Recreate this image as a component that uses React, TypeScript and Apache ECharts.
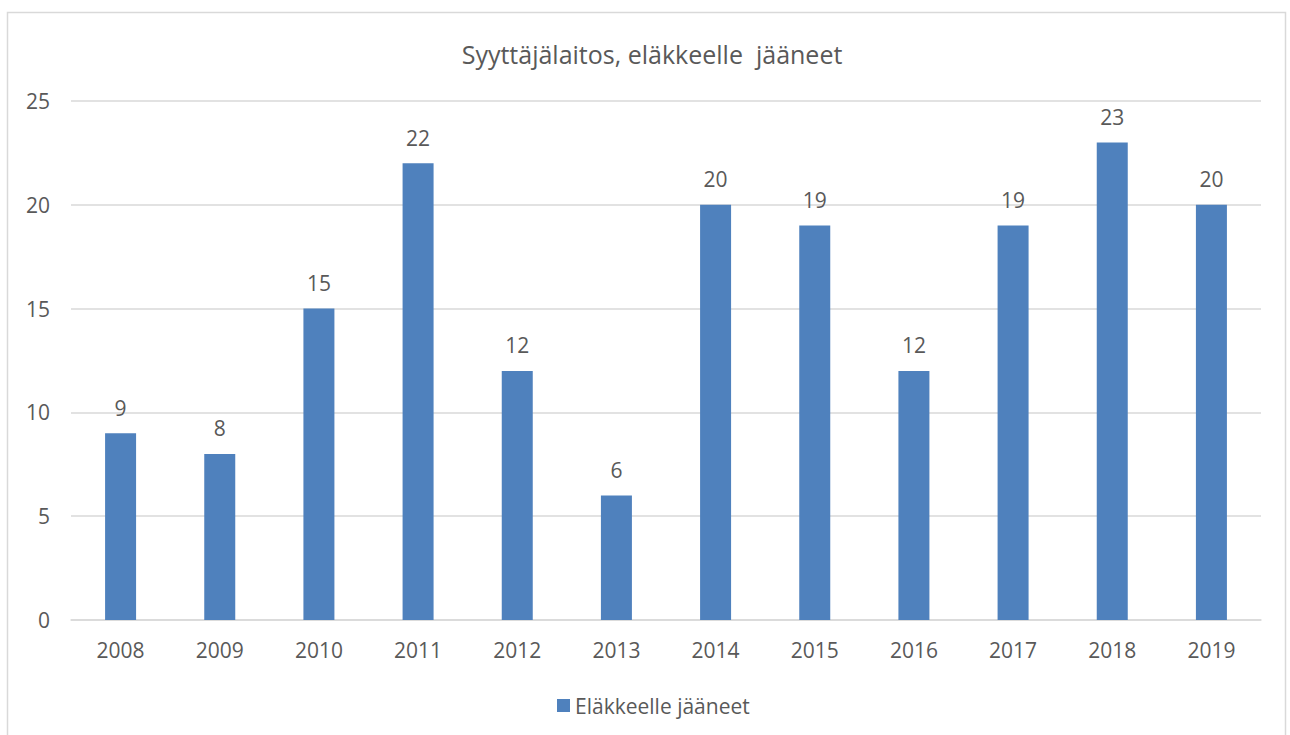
import React, { useEffect, useRef } from "react";
import * as echarts from "echarts";

const categories = ["2008", "2009", "2010", "2011", "2012", "2013", "2014", "2015", "2016", "2017", "2018", "2019"];
const values = [9, 8, 15, 22, 12, 6, 20, 19, 12, 19, 23, 20];
const seriesName = "Eläkkeelle jääneet";
const titleText = "Syyttäjälaitos, eläkkeelle  jääneet";

export default function App() {
  const ref = useRef<HTMLDivElement>(null);
  useEffect(() => {
    if (!ref.current) return;
    const chart = echarts.init(ref.current, null, { renderer: "svg" });
    const font = "'Open Sans', 'Noto Sans', sans-serif";
    chart.setOption({
      animation: false,
      backgroundColor: "#ffffff",
      textStyle: { fontFamily: font },
      title: {
        text: titleText,
        left: 647,
        textAlign: "center",
        top: 36,
        textStyle: { color: "#595959", fontSize: 25, fontWeight: "normal", fontFamily: font },
      },
      graphic: [
        {
          type: "rect",
          shape: { x: 7.5, y: 12.5, width: 1278, height: 730 },
          style: { fill: "none", stroke: "#d9d9d9", lineWidth: 1.5 },
          silent: true,
        },
      ],
      legend: {
        data: [seriesName],
        left: 552,
        top: 690,
        itemWidth: 13,
        itemHeight: 13,
        itemGap: 6,
        icon: "rect",
        textStyle: { color: "#595959", fontSize: 21, fontFamily: font },
      },
      grid: { left: 71, right: 29, top: 101, bottom: 115, containLabel: false },
      xAxis: {
        type: "category",
        data: categories,
        axisLine: { show: true, lineStyle: { color: "#d9d9d9", width: 1.5 } },
        axisTick: { show: false },
        axisLabel: { color: "#595959", fontSize: 21, margin: 19, fontFamily: font },
      },
      yAxis: {
        type: "value",
        min: 0,
        max: 25,
        interval: 5,
        axisLine: { show: false },
        axisTick: { show: false },
        splitLine: { lineStyle: { color: "#d9d9d9", width: 1.5 } },
        axisLabel: { color: "#595959", fontSize: 21, margin: 21, fontFamily: font },
      },
      series: [
        {
          name: seriesName,
          type: "bar",
          data: values,
          barWidth: 31,
          itemStyle: { color: "#4f81bd" },
          label: {
            show: true,
            position: "top",
            distance: 15,
            color: "#595959",
            fontSize: 21,
            fontFamily: font,
          },
        },
      ],
    });
    return () => chart.dispose();
  }, []);
  return <div ref={ref} style={{ position: "fixed", left: 0, top: 0, width: 1290, height: 735 }} />;
}
